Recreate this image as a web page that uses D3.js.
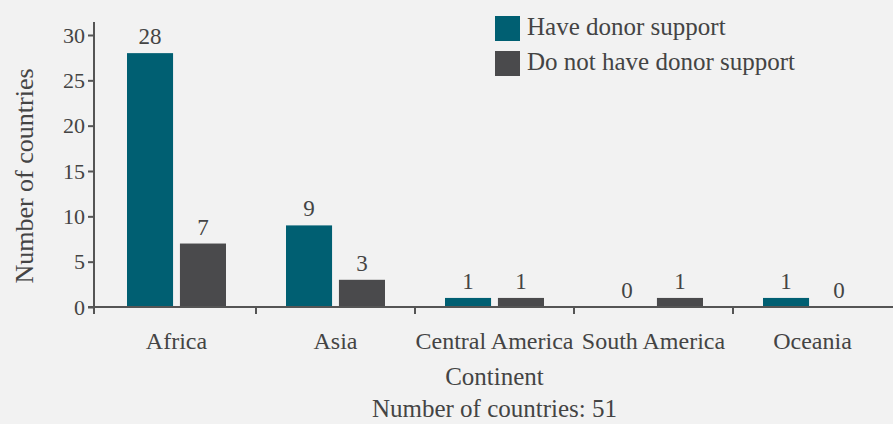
<!DOCTYPE html>
<html>
<head>
<meta charset="utf-8">
<script src="https://cdn.jsdelivr.net/npm/d3@7"></script>
<style>
  html, body { margin: 0; padding: 0; background: #f2f2f2; }
  svg { display: block; font-family: "Liberation Serif", "DejaVu Serif", serif; }
</style>
</head>
<body>
<svg id="chart" width="893" height="424"></svg>
<script>
// Countries by continent, split by donor support
const continents = ["Africa", "Asia", "Central America", "South America", "Oceania"];
const seriesNames = ["Have donor support", "Do not have donor support"];
const haveSupport = [28, 9, 1, 0, 1];
const noSupport = [7, 3, 1, 1, 0];
const yTicks = [0, 5, 10, 15, 20, 25, 30];
const xTitle = "Continent";
const yTitle = "Number of countries";
const footnote = "Number of countries: 51";

const colors = ["#005f72", "#4a4a4c"];
const ink = "#444444";
const axisInk = "#555555";

const svg = d3.select("#chart");
const W = 893, H = 424;
svg.append("rect").attr("width", W).attr("height", H).attr("fill", "#f2f2f2");

const x0 = d3.scaleBand().domain(continents).range([97, 892]).padding(0);
const x1 = d3.scaleBand().domain(seriesNames)
  .range([30, x0.bandwidth() - 30]).paddingInner(0.13);
const y = d3.scaleLinear().domain([0, 30]).range([307, 35]);

const rows = continents.map((c, i) => ({
  continent: c,
  values: [
    { series: seriesNames[0], value: haveSupport[i] },
    { series: seriesNames[1], value: noSupport[i] }
  ]
}));

// Bars and value labels
const groups = svg.append("g").selectAll("g").data(rows).join("g")
  .attr("transform", d => `translate(${x0(d.continent)},0)`);

groups.selectAll("rect").data(d => d.values).join("rect")
  .attr("x", d => x1(d.series))
  .attr("width", x1.bandwidth())
  .attr("y", d => y(d.value))
  .attr("height", d => y(0) - y(d.value))
  .attr("fill", (d, i) => colors[i]);

groups.selectAll("text").data(d => d.values).join("text")
  .attr("x", d => x1(d.series) + x1.bandwidth() / 2)
  .attr("y", d => y(d.value) - 9)
  .attr("text-anchor", "middle")
  .attr("font-size", 23)
  .attr("fill", ink)
  .text(d => d.value);

// Y axis
const yAxis = svg.append("g").attr("transform", "translate(94,0)")
  .call(d3.axisLeft(y).tickValues(yTicks).tickSize(6).tickSizeOuter(0));
yAxis.select(".domain").remove();
yAxis.selectAll(".tick line").attr("stroke", axisInk).attr("stroke-width", 2);
yAxis.selectAll(".tick text").attr("x", -9).attr("font-size", 22)
  .attr("fill", ink).attr("font-family", "Liberation Serif, serif");
svg.append("line").attr("x1", 94).attr("x2", 94).attr("y1", 22).attr("y2", y(0) + 1)
  .attr("stroke", axisInk).attr("stroke-width", 2);

// X axis: line, boundary ticks, category labels
svg.append("line").attr("x1", 88).attr("x2", W).attr("y1", y(0)).attr("y2", y(0))
  .attr("stroke", axisInk).attr("stroke-width", 2);
const boundaries = continents.map(c => x0(c));
boundaries[0] = 94;
svg.append("g").selectAll("line").data(boundaries).join("line")
  .attr("x1", d => d).attr("x2", d => d)
  .attr("y1", y(0)).attr("y2", y(0) + 7)
  .attr("stroke", axisInk).attr("stroke-width", 2);

svg.append("g").selectAll("text").data(continents).join("text")
  .attr("x", d => x0(d) + x0.bandwidth() / 2)
  .attr("y", 349)
  .attr("text-anchor", "middle")
  .attr("font-size", 24)
  .attr("fill", ink)
  .text(d => d);

const midX = x0(continents[2]) + x0.bandwidth() / 2;
svg.append("text").attr("x", midX).attr("y", 385).attr("text-anchor", "middle")
  .attr("font-size", 25).attr("fill", ink).text(xTitle);
svg.append("text").attr("x", midX).attr("y", 417).attr("text-anchor", "middle")
  .attr("font-size", 25).attr("fill", ink).text(footnote);

svg.append("text")
  .attr("transform", `translate(33,${(y(0) + 45) / 2}) rotate(-90)`)
  .attr("text-anchor", "middle")
  .attr("font-size", 26).attr("fill", ink).text(yTitle);

// Legend
const legend = svg.append("g").selectAll("g").data(seriesNames).join("g")
  .attr("transform", (d, i) => `translate(495,${16 + i * 35})`);
legend.append("rect").attr("width", 25).attr("height", 25)
  .attr("fill", (d, i) => colors[i]);
legend.append("text").attr("x", 32).attr("y", 19)
  .attr("font-size", 25).attr("fill", ink).text(d => d);
</script>
</body>
</html>
